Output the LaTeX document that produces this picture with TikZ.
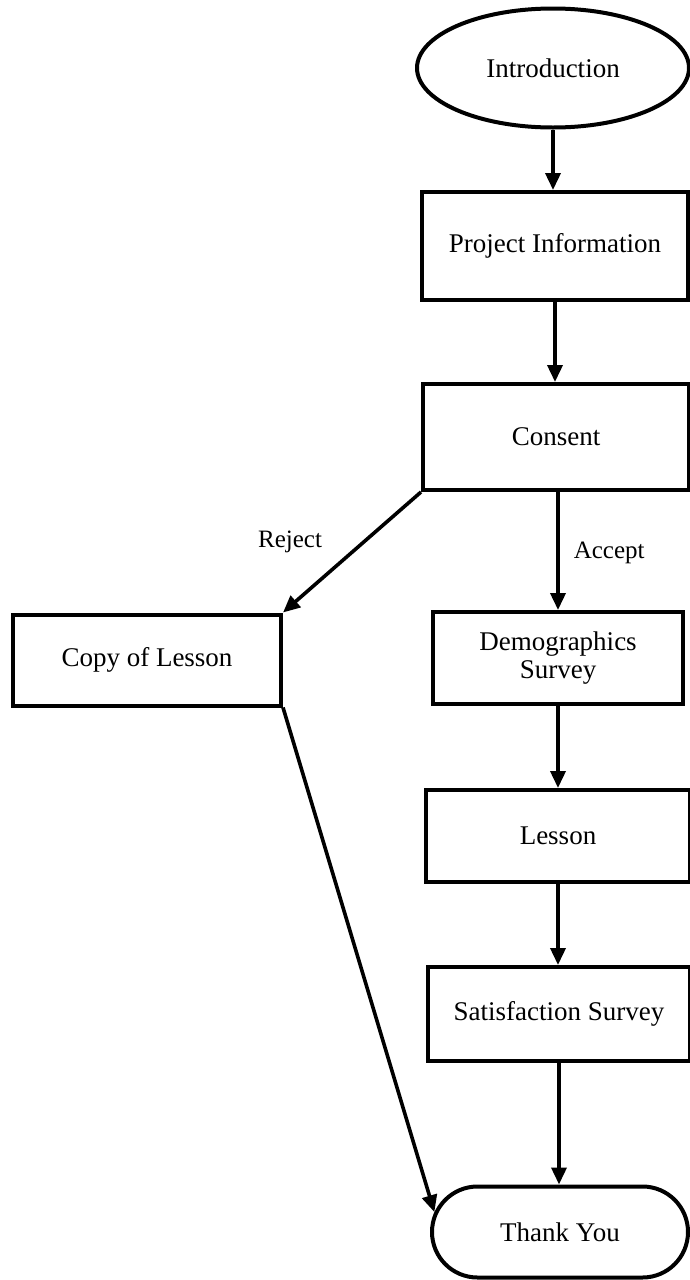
\documentclass[tikz,border=0pt]{standalone}
\usepackage{fontspec}
\setmainfont{Liberation Serif}
\usetikzlibrary{shapes.geometric,shapes.misc,arrows.meta}
\begin{document}
\begin{tikzpicture}[x=0.5pt,y=-0.5pt,
  every node/.style={font=\fontsize{13.5}{14}\selectfont, inner sep=0pt},
  boxnode/.style={draw, line width=2pt, rectangle},
  conn/.style={line width=1.8pt, -{Triangle[length=8.5pt,width=7.5pt]}},
  lbl/.style={font=\fontsize{12.5}{13}\selectfont}]
\useasboundingbox (0,0) rectangle (690,1280);
\node[draw, line width=2pt, ellipse, minimum width=136pt, minimum height=59.5pt] (intro) at (553,68) {Introduction};
\node[boxnode, minimum width=133pt, minimum height=54pt] (pinfo) at (555,246) {Project Information};
\node[boxnode, minimum width=133pt, minimum height=53pt] (consent) at (556,437) {Consent};
\node[boxnode, minimum width=134pt, minimum height=45.5pt] (copy) at (147,660) {Copy of Lesson};
\node[boxnode, minimum width=125pt, minimum height=46pt, align=center] (demo) at (558,658) {Demographics\\Survey};
\node[boxnode, minimum width=132pt, minimum height=46pt] (lesson) at (558,836) {Lesson};
\node[boxnode, minimum width=131pt, minimum height=47pt] (satis) at (559,1014) {Satisfaction Survey};
\node[draw, line width=2pt, rounded rectangle, minimum width=128pt, minimum height=45.5pt] (thank) at (560,1232) {Thank You};
\draw[conn] (intro.south) -- (intro.south |- pinfo.north);
\draw[conn] (pinfo.south) -- (pinfo.south |- consent.north);
\draw[conn] (consent.south west) -- (copy.north east);
\draw[conn] (consent.south -| demo.north) -- node[lbl, right=7pt, pos=0.52] {Accept} (demo.north);
\node[lbl] (rejectlbl) at (290,542) {Reject};
\draw[conn] (demo.south) -- (demo.south |- lesson.north);
\draw[conn] (lesson.south) -- (lesson.south |- satis.north);
\draw[conn] (satis.south) -- (satis.south |- thank.north);
\draw[conn] (copy.south east) -- (thank.171);
\end{tikzpicture}
\end{document}
